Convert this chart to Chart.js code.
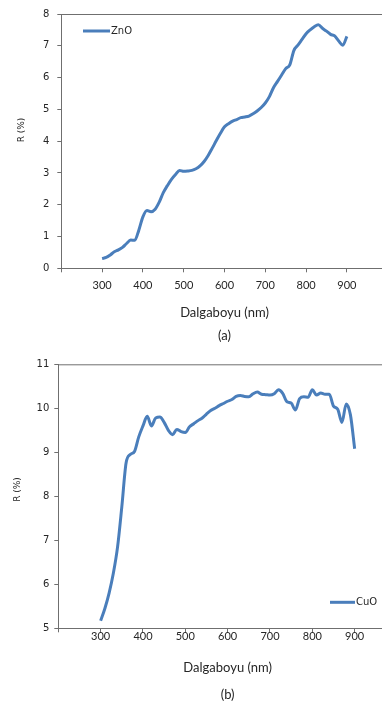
<!DOCTYPE html>
<html>
<head>
<meta charset="utf-8">
<script src="https://cdn.jsdelivr.net/npm/chart.js@4.4.1/dist/chart.umd.min.js"></script>
<style>
  html, body { margin: 0; padding: 0; background: #fff; overflow: hidden; }
  .panel { position: absolute; left: 0; }
  #panelA { top: 0; }
  #panelB { top: 350px; }
</style>
</head>
<body>
<div class="panel" id="panelA"><canvas id="chartA" width="400" height="347"></canvas></div>
<div class="panel" id="panelB"><canvas id="chartB" width="410" height="358"></canvas></div>
<script>
// Dalga boyu (nm)
const wavelengths = [
  300, 310, 320, 330, 340, 350, 360, 370, 380, 390,
  400, 410, 420, 430, 440, 450, 460, 470, 480, 490,
  500, 510, 520, 530, 540, 550, 560, 570, 580, 590,
  600, 610, 620, 630, 640, 650, 660, 670, 680, 690,
  700, 710, 720, 730, 740, 750, 760, 770, 780, 790,
  800, 810, 820, 830, 840, 850, 860, 870, 880, 890,
  900
];

// Yansıma R (%) - ZnO
const znoValues = [
  0.31, 0.34, 0.42, 0.52, 0.58, 0.66, 0.78, 0.89, 0.88, 1.20,
  1.62, 1.82, 1.78, 1.86, 2.08, 2.38, 2.60, 2.80, 2.95, 3.08,
  3.05, 3.06, 3.08, 3.13, 3.22, 3.36, 3.55, 3.78, 4.02, 4.25,
  4.45, 4.55, 4.63, 4.68, 4.74, 4.76, 4.79, 4.86, 4.95, 5.06,
  5.20, 5.40, 5.68, 5.88, 6.08, 6.28, 6.40, 6.85, 7.02, 7.20,
  7.38, 7.50, 7.60, 7.66, 7.55, 7.46, 7.36, 7.31, 7.15, 7.02,
  7.30
];

// Yansıma R (%) - CuO
const cuoValues = [
  5.17, 5.45, 5.80, 6.25, 6.85, 7.76, 8.75, 8.95, 9.02, 9.35,
  9.60, 9.82, 9.60, 9.78, 9.80, 9.68, 9.50, 9.40, 9.52, 9.47,
  9.45, 9.58, 9.65, 9.72, 9.78, 9.87, 9.95, 10.00, 10.06, 10.11,
  10.16, 10.20, 10.27, 10.29, 10.27, 10.26, 10.33, 10.37, 10.32, 10.31,
  10.30, 10.33, 10.42, 10.34, 10.15, 10.12, 9.96, 10.22, 10.26, 10.25,
  10.42, 10.30, 10.35, 10.32, 10.32, 10.05, 9.98, 9.68, 10.10, 9.85,
  9.08
];

const xRange = [200, 1000];
const znoRange = [0, 8];
const cuoRange = [5, 11];

const LINE_BLUE = '#4a7ebb';
const AXIS_GREY = '#6f6f6f';
const TEXT = '#262626';

// çerçeve: üst ve sağ kenar
const frameLines = {
  id: 'frameLines',
  beforeDatasetsDraw(chart) {
    const { ctx, chartArea: a } = chart;
    ctx.save();
    ctx.strokeStyle = AXIS_GREY;
    ctx.lineWidth = 1;
    ctx.beginPath();
    ctx.moveTo(a.left, a.top + 0.5);
    ctx.lineTo(a.right, a.top + 0.5);
    ctx.lineTo(a.right, a.bottom);
    ctx.stroke();
    ctx.restore();
  }
};

// eksen başlığı (dikey) ve grafik içi lejant
const sideTitle = {
  id: 'sideTitle',
  afterDraw(chart, args, opts) {
    const ctx = chart.ctx;
    ctx.save();
    ctx.translate(opts.x, opts.y);
    ctx.rotate(-Math.PI / 2);
    ctx.font = '9px "DejaVu Sans"';
    ctx.fillStyle = TEXT;
    ctx.textAlign = 'center';
    ctx.textBaseline = 'middle';
    ctx.fillText(opts.text, 0, 0);
    ctx.restore();
  }
};

const innerLegend = {
  id: 'innerLegend',
  afterDraw(chart, args, opts) {
    const ctx = chart.ctx;
    const ds = chart.data.datasets[0];
    ctx.save();
    ctx.strokeStyle = ds.borderColor;
    ctx.lineWidth = 3;
    ctx.beginPath();
    ctx.moveTo(opts.x, opts.y);
    ctx.lineTo(opts.x + opts.len, opts.y);
    ctx.stroke();
    ctx.font = '10px "DejaVu Sans"';
    ctx.fillStyle = TEXT;
    ctx.textBaseline = 'middle';
    ctx.fillText(ds.label, opts.x + opts.len + 1, opts.y);
    ctx.restore();
  }
};

function buildChart(canvasId, cfg) {
  const points = wavelengths.map((w, i) => ({ x: w, y: cfg.values[i] }));
  return new Chart(document.getElementById(canvasId), {
    type: 'line',
    data: {
      datasets: [{
        label: cfg.label,
        data: points,
        borderColor: LINE_BLUE,
        borderWidth: 3,
        pointRadius: 0,
        cubicInterpolationMode: 'monotone',
        fill: false
      }]
    },
    options: {
      responsive: false,
      animation: false,
      layout: { padding: cfg.padding },
      plugins: {
        legend: { display: false },
        tooltip: { enabled: false },
        sideTitle: cfg.sideTitle,
        innerLegend: cfg.legend
      },
      scales: {
        x: {
          type: 'linear',
          min: xRange[0],
          max: xRange[1],
          afterFit: (s) => { s.height = cfg.xHeight; },
          border: { display: true, color: AXIS_GREY, width: 1 },
          grid: { drawOnChartArea: false, drawTicks: true, tickLength: 4, color: AXIS_GREY },
          ticks: {
            stepSize: 100,
            autoSkip: false,
            maxRotation: 0,
            padding: cfg.xTickPad,
            color: TEXT,
            font: { family: 'Lato', size: 11 },
            callback: (v) => (v === xRange[0] || v === xRange[1]) ? '' : v
          },
          title: {
            display: true,
            text: ['Dalgaboyu (nm)', cfg.caption],
            color: TEXT,
            padding: { top: 0, bottom: 0 },
            font: { family: 'Lato', size: 13, lineHeight: cfg.titleLine }
          }
        },
        y: {
          min: cfg.yRange[0],
          max: cfg.yRange[1],
          afterFit: (s) => { s.width = cfg.yWidth; },
          border: { display: true, color: AXIS_GREY, width: 1 },
          grid: { drawOnChartArea: false, drawTicks: true, tickLength: 4, color: AXIS_GREY },
          ticks: {
            stepSize: 1,
            padding: cfg.yTickPad,
            color: TEXT,
            font: { family: 'DejaVu Sans', size: 10 }
          }
        }
      }
    },
    plugins: [frameLines, sideTitle, innerLegend]
  });
}

buildChart('chartA', {
  label: 'ZnO',
  values: znoValues,
  yRange: znoRange,
  caption: '(a)',
  padding: { top: 8, right: 12.3, left: 0, bottom: 0 },
  xHeight: 78.7,
  yWidth: 61.3,
  xTickPad: 7,
  yTickPad: 8,
  titleLine: '23px',
  sideTitle: { text: 'R (%)', x: 22, y: 130 },
  legend: { x: 83, y: 31, len: 27 }
});

buildChart('chartB', {
  label: 'CuO',
  values: cuoValues,
  yRange: cuoRange,
  caption: '(b)',
  padding: { top: 14.3, right: 13, left: 0, bottom: 0 },
  xHeight: 79.7,
  yWidth: 58.3,
  xTickPad: -2,
  yTickPad: 5,
  titleLine: '27px',
  sideTitle: { text: 'R (%)', x: 18, y: 139.5 },
  legend: { x: 330, y: 252.3, len: 25 }
});
</script>
</body>
</html>
